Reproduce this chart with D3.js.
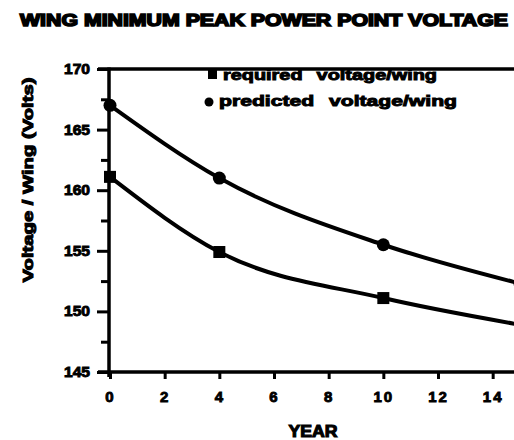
<!DOCTYPE html>
<html>
<head>
<meta charset="utf-8">
<script src="https://cdn.jsdelivr.net/npm/d3@7"></script>
<style>
  body { margin: 0; background: #fff; }
  svg text { font-family: "Liberation Sans", Arial, sans-serif; font-weight: bold; fill: #000; }
</style>
</head>
<body>
<div id="chart"></div>
<script>
// chart data
const years = [0, 4, 10, 15];
const requiredVolts = [161.1, 154.9, 151.1, 148.9];
const predictedVolts = [167.0, 161.0, 155.5, 152.3];
const xTicks = [0, 2, 4, 6, 8, 10, 12, 14];
const yTicks = [145, 147.5, 150, 152.5, 155, 157.5, 160, 162.5, 165, 167.5, 170];
const seriesNames = ["required voltage/wing", "predicted voltage/wing"];

const W = 514, H = 440;

const svg = d3.select("#chart")
    .append("svg")
    .attr("width", W)
    .attr("height", H);

// Scales
const x = d3.scaleLinear().domain([0, 15]).range([110, 520]);
const y = d3.scaleLinear().domain([145, 170]).range([372, 69]);

// Title
svg.append("text")
    .attr("x", 20)
    .attr("y", 26)
    .attr("textLength", 488)
    .attr("lengthAdjust", "spacingAndGlyphs")
    .style("font-size", "17px")
    .style("stroke", "#000")
    .style("stroke-width", 1.6)
    .text("WING MINIMUM PEAK POWER POINT VOLTAGE");

// Y axis
const yAxis = svg.append("g")
    .attr("transform", `translate(${x(0) - 1},0)`)
    .call(d3.axisLeft(y)
        .tickValues(yTicks)
        .tickSize(11)
        .tickSizeOuter(0)
        .tickPadding(8)
        .tickFormat(d => d % 5 === 0 ? d3.format("d")(d) : ""));
yAxis.select(".domain").remove();
yAxis.selectAll(".tick line")
    .attr("stroke", "#000")
    .attr("stroke-width", 3)
    .attr("x2", d => d % 5 === 0 ? -12 : -8);
yAxis.selectAll(".tick text")
    .attr("font-family", null)
    .attr("font-size", null)
    .attr("textLength", d => d % 5 === 0 ? 26 : null)
    .attr("lengthAdjust", "spacingAndGlyphs")
    .style("font-size", "14px")
    .style("stroke", "#000")
    .style("stroke-width", 0.9);

// X axis
const xAxis = svg.append("g")
    .attr("transform", `translate(0,${y(145)})`)
    .call(d3.axisBottom(x)
        .tickValues(xTicks)
        .tickSize(7)
        .tickSizeOuter(0)
        .tickPadding(12));
xAxis.select(".domain").remove();
xAxis.selectAll(".tick line")
    .attr("stroke", "#000")
    .attr("stroke-width", 3);
xAxis.selectAll(".tick text")
    .attr("font-family", null)
    .attr("font-size", null)
    .style("font-size", "15px")
    .style("letter-spacing", "2px")
    .style("stroke", "#000")
    .style("stroke-width", 0.9);

// Frame lines (left, top, bottom)
svg.append("line")
    .attr("x1", x(0) - 1).attr("x2", x(0) - 1)
    .attr("y1", y(170) - 1.5).attr("y2", y(145) + 5)
    .attr("stroke", "#000").attr("stroke-width", 3.5);
svg.append("line")
    .attr("x1", x(0) - 12).attr("x2", W)
    .attr("y1", y(170)).attr("y2", y(170))
    .attr("stroke", "#000").attr("stroke-width", 3.5);
svg.append("line")
    .attr("x1", x(0) - 12).attr("x2", W)
    .attr("y1", y(145)).attr("y2", y(145))
    .attr("stroke", "#000").attr("stroke-width", 3.5);

// Axis titles
svg.append("text")
    .attr("x", 313)
    .attr("y", 437)
    .attr("text-anchor", "middle")
    .attr("textLength", 49)
    .attr("lengthAdjust", "spacingAndGlyphs")
    .style("font-size", "16px")
    .style("stroke", "#000")
    .style("stroke-width", 1.1)
    .text("YEAR");

svg.append("text")
    .attr("transform", "translate(33,180) rotate(-90)")
    .attr("text-anchor", "middle")
    .attr("textLength", 205)
    .attr("lengthAdjust", "spacingAndGlyphs")
    .style("font-size", "15px")
    .style("stroke", "#000")
    .style("stroke-width", 1)
    .text("Voltage / Wing (Volts)");

// Curves
const line = d3.line()
    .x((d, i) => x(years[i]))
    .y(d => y(d))
    .curve(d3.curveMonotoneX);

[requiredVolts, predictedVolts].forEach(vals => {
    svg.append("path")
        .datum(vals)
        .attr("fill", "none")
        .attr("stroke", "#000")
        .attr("stroke-width", 4)
        .attr("d", line);
});

// Markers
svg.selectAll(".sq")
    .data(requiredVolts)
    .enter()
    .append("rect")
    .attr("class", "sq")
    .attr("x", (d, i) => x(years[i]) - 6)
    .attr("y", d => y(d) - 6)
    .attr("width", 12)
    .attr("height", 12)
    .attr("fill", "#000");

svg.selectAll(".dot")
    .data(predictedVolts)
    .enter()
    .append("circle")
    .attr("class", "dot")
    .attr("cx", (d, i) => x(years[i]))
    .attr("cy", d => y(d))
    .attr("r", 6.5)
    .attr("fill", "#000");

// Legend
const legend = svg.append("g");
legend.append("rect")
    .attr("x", 208).attr("y", 70)
    .attr("width", 9).attr("height", 9)
    .attr("fill", "#000");
legend.append("circle")
    .attr("cx", 209).attr("cy", 102)
    .attr("r", 4.5)
    .attr("fill", "#000");
legend.append("text")
    .attr("x", 223).attr("y", 80)
    .attr("textLength", 214)
    .attr("lengthAdjust", "spacingAndGlyphs")
    .style("font-size", "14px")
    .style("word-spacing", "6px")
    .style("stroke", "#000")
    .style("stroke-width", 0.9)
    .text(seriesNames[0]);
legend.append("text")
    .attr("x", 219).attr("y", 106)
    .attr("textLength", 238)
    .attr("lengthAdjust", "spacingAndGlyphs")
    .style("font-size", "14px")
    .style("word-spacing", "6px")
    .style("stroke", "#000")
    .style("stroke-width", 0.9)
    .text(seriesNames[1]);
</script>
</body>
</html>
